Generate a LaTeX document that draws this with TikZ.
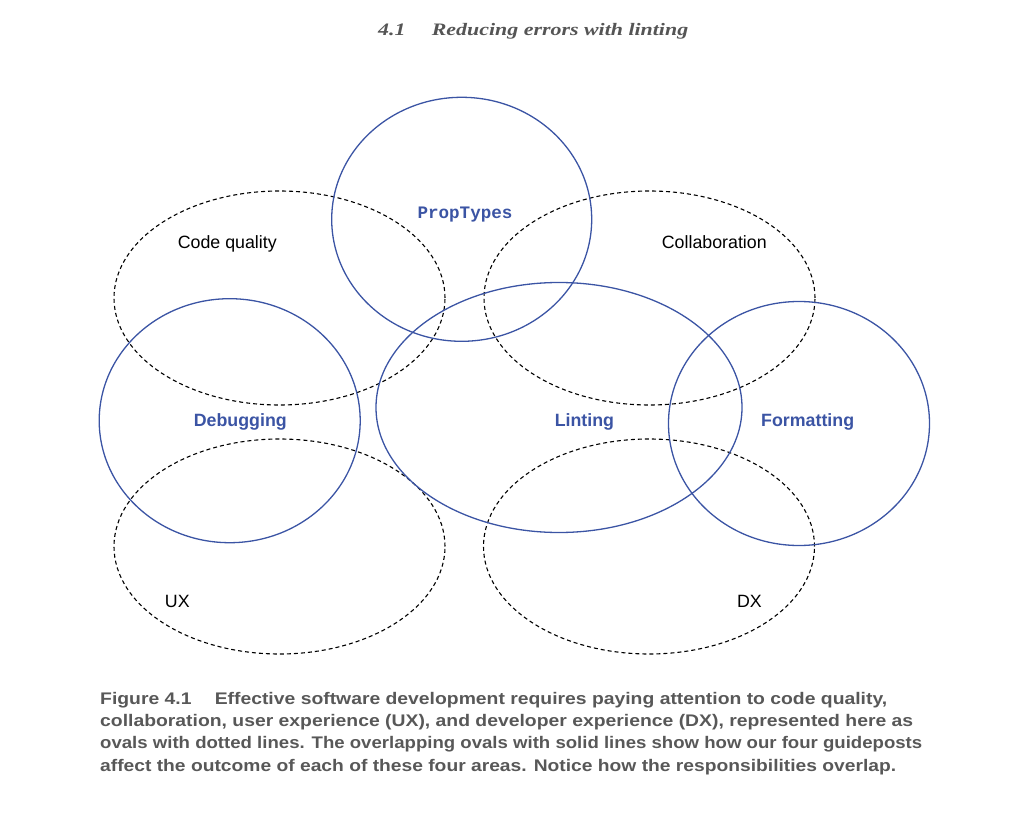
\documentclass[tikz,border=0pt]{standalone}
\usepackage{fontspec}
\usepackage{graphicx}
\usetikzlibrary{shapes.geometric}
\newfontfamily\lblfont{Liberation Sans}
\newfontfamily\codefont{Liberation Mono}
\newfontfamily\headfont{Liberation Serif}
\definecolor{guideblue}{RGB}{59,84,164}
\definecolor{capgray}{RGB}{88,88,88}
\definecolor{headgray}{RGB}{85,85,85}
\tikzset{
  area/.style={draw=black, ellipse, inner sep=0pt, line width=1.1pt, dash pattern=on 4pt off 3pt},
  guide/.style={draw=guideblue, ellipse, inner sep=0pt, line width=1.3pt},
  arealabel/.style={inner sep=0pt, anchor=base, font=\lblfont\fontsize{17.8}{20}\selectfont, text=black},
  guidelabel/.style={inner sep=0pt, anchor=base, font=\lblfont\bfseries\fontsize{17.8}{20}\selectfont, text=guideblue},
  codelabel/.style={inner sep=0pt, anchor=base, font=\codefont\bfseries\fontsize{17.5}{20}\selectfont, text=guideblue},
  capline/.style={inner sep=0pt, anchor=base west, font=\lblfont\bfseries\fontsize{16.8}{20}\selectfont, text=capgray},
  headline/.style={inner sep=0pt, anchor=base west, font=\headfont\bfseries\itshape\fontsize{17.5}{20}\selectfont, text=headgray}
}
\begin{document}
\begin{tikzpicture}[x=1pt,y=-1pt]
\useasboundingbox (0,0) rectangle (1023,826);
% header
\node[headline] (head) at (378,36) {\resizebox{310pt}{\height}{4.1\hspace{1.2em}Reducing errors with linting}};
% dashed areas
\node[area, minimum width=331pt, minimum height=214pt] (cq) at (279.5,298) {};
\node[area, minimum width=331pt, minimum height=214pt] (col) at (649.5,298) {};
\node[area, minimum width=331pt, minimum height=215pt] (ux) at (279.5,546.5) {};
\node[area, minimum width=331pt, minimum height=215pt] (dx) at (649,546.5) {};
% guideposts
\node[guide, minimum width=260pt, minimum height=244pt] (prop) at (461.7,219.3) {};
\node[guide, minimum width=261pt, minimum height=244pt] (dbg) at (229.7,420.7) {};
\node[guide, minimum width=366pt, minimum height=250pt] (lint) at (559,407.5) {};
\node[guide, minimum width=261pt, minimum height=244pt] (fmt) at (799,423.5) {};
% labels
\node[arealabel] (cqt) at (227.3,248.3) {Code quality};
\node[arealabel] (colt) at (714.3,248.3) {Collaboration};
\node[arealabel] (uxt) at (177.3,607) {UX};
\node[arealabel] (dxt) at (749.5,607.3) {DX};
\node[codelabel] (propt) at (465,218.3) {\resizebox{95pt}{\height}{PropTypes}};
\node[guidelabel] (dbgt) at (240.3,426) {Debugging};
\node[guidelabel] (lintt) at (584.4,426) {Linting};
\node[guidelabel] (fmtt) at (807.7,426) {Formatting};
% caption
\node[capline] (c1) at (100,704) {\resizebox{787pt}{\height}{Figure 4.1\hspace{1.2em}Effective software development requires paying attention to code quality,}};
\node[capline] (c2) at (100,726.5) {\resizebox{813pt}{\height}{collaboration, user experience (UX), and developer experience (DX), represented here as}};
\node[capline] (c3) at (100,748.8) {\resizebox{822pt}{\height}{ovals with dotted lines. The overlapping ovals with solid lines show how our four guideposts}};
\node[capline] (c4) at (100,771) {\resizebox{796pt}{\height}{affect the outcome of each of these four areas. Notice how the responsibilities overlap.}};
\end{tikzpicture}
\end{document}
